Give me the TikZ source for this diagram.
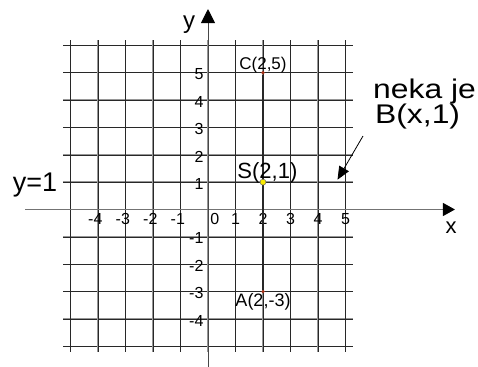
\documentclass[tikz,border=0pt]{standalone}
\usepackage{fontspec}
\setmainfont{Liberation Sans}
\usetikzlibrary{arrows.meta}
\definecolor{gridgray}{RGB}{150,150,150}
\definecolor{griddark}{RGB}{40,40,40}
\definecolor{axisgray}{RGB}{115,115,115}
\definecolor{pointred}{RGB}{165,50,25}
\definecolor{pointyellow}{RGB}{250,235,0}

\begin{document}
\begin{tikzpicture}[x=27.5pt,y=27.35pt,
    gridline/.style={draw=gridgray,line width=1.3pt},
    gridthin/.style={draw=griddark,line width=.55pt},
    tick/.style={inner sep=0pt,font=\fontsize{16}{16}\selectfont},
    ptlabel/.style={inner sep=0pt,anchor=base},
    dot/.style={circle,inner sep=0pt,minimum size=3.6pt,fill=pointred},
    big/.style={inner sep=0pt,anchor=base west,font=\fontsize{27}{27}\selectfont}]
    \useasboundingbox (-7.5636,-5.7221) rectangle (9.8182,7.66);
    % grid
    \foreach \y in {-5,...,6}{\draw[gridline] (-5.27,\y)--(5.27,\y); \draw[gridthin] (-5.27,\y)--(5.27,\y);}
    \foreach \x in {-5,...,5}{\draw[gridline] (\x,-5.21)--(\x,6.2); \draw[gridthin] (\x,-5.21)--(\x,6.2);}
    % axes
    \coordinate (xs) at (-6.65,0);
    \coordinate (xe) at (8.98,0);
    \coordinate (ys) at (0,-5.75);
    \coordinate (ye) at (0,7.33);
    \draw[axisgray,line width=1.1pt,-{Triangle[length=12pt,width=13pt,color=black]}] (xs)--(xe);
    \draw[griddark!85,line width=1pt,-{Triangle[length=14pt,width=14pt,color=black]}] (ys)--(ye);
    \node[inner sep=0pt,anchor=base,font=\fontsize{24}{24}\selectfont] (ylabel) at (-0.69,6.6) {y};
    \node[inner sep=0pt,anchor=base,font=\fontsize{22}{22}\selectfont] (xlabel) at (8.84,-0.87) {x};
    % ticks
    \foreach \x/\t in {-4/4,-3/3,-2/2,-1/1}{\node[tick,anchor=north] (xm\t) at (\x,-0.13) {\llap{-}\t};}
    \foreach \x in {1,...,5}{\node[tick,anchor=north] (xp\x) at (\x,-0.13) {\x};}
    \node[tick,anchor=north] (xzero) at (0.25,-0.13) {0};
    \foreach \y/\t in {-4/4,-3/3,-2/2,-1/1}{\node[tick,anchor=east] (ym\t) at (-0.16,\y-0.06) {-\t};}
    \foreach \y in {1,...,5}{\node[tick,anchor=east] (yp\y) at (-0.16,\y-0.06) {\y};}
    % points
    \node[dot] (C) at (2,5) {};
    \node[dot] (A) at (2,-3) {};
    \draw[griddark,line width=1.2pt] (C)--(A);
    \node[dot,fill=pointyellow,draw=black!60,line width=.5pt,minimum size=6pt] (S) at (2,1) {};
    \node[ptlabel,font=\fontsize{17}{17}\selectfont] (lC) at (2.0,5.13) {C(2,5)};
    \node[ptlabel,font=\fontsize{22}{22}\selectfont] (lS) at (2.16,1.15) {S(2,1)};
    \node[ptlabel,font=\fontsize{18}{18}\selectfont] (lA) at (2.0,-3.55) {A(2,-3)};
    % texts
    \node[big] (yone) at (-7.10,0.65) {y=1};
    \node[big] (neka) at (6.0,4.066) {\scalebox{1.18}[1]{neka je}};
    \node[big] (bx) at (6.07,3.15) {\scalebox{1.18}[1]{B(x,1)}};
    \coordinate (bs) at (5.636,2.687);
    \coordinate (bt) at (4.71,1.09);
    \draw[line width=.8pt,-{Triangle[length=13pt,width=11pt]}] (bs)--(bt);
\end{tikzpicture}
\end{document}
